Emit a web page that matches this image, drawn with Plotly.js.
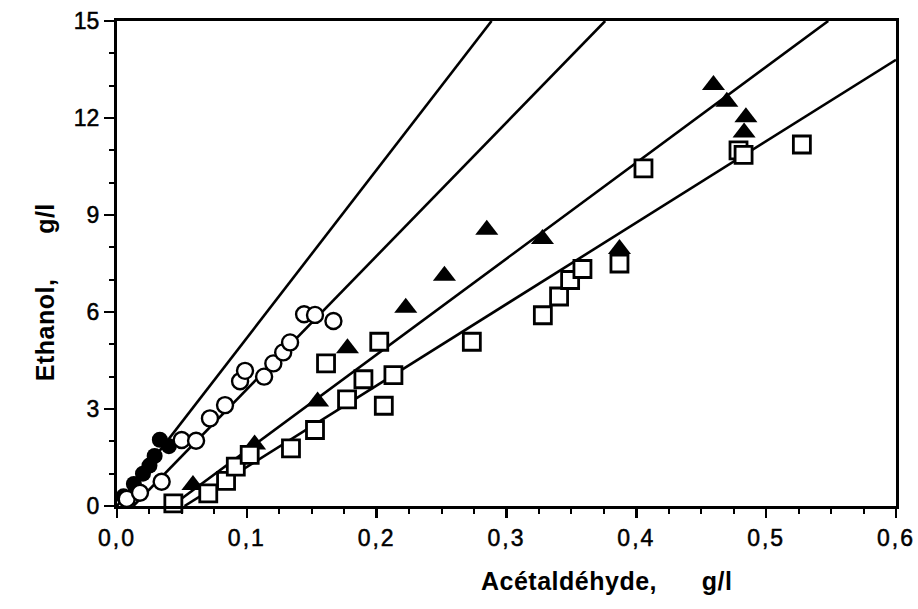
<!DOCTYPE html>
<html>
<head>
<meta charset="utf-8">
<script src="https://cdn.plot.ly/plotly-3.0.1.min.js"></script>
<style>
html,body{margin:0;padding:0;background:#fff;}
#chart{width:918px;height:609px;}
.xtick text{letter-spacing:2px;}
.xtick text,.ytick text{stroke:#000;stroke-width:0.5px;}
.annotation-text{letter-spacing:0.5px;}
</style>
</head>
<body>
<div id="chart"></div>
<script>
// Open circles
const openCircleX = [0.0075, 0.0177, 0.0344, 0.0498, 0.0609, 0.0716, 0.0832, 0.0948, 0.0986, 0.1133, 0.1204, 0.1280, 0.1333, 0.1441, 0.1525, 0.1667];
const openCircleY = [0.22, 0.41, 0.75, 2.04, 2.02, 2.71, 3.12, 3.86, 4.18, 4.00, 4.41, 4.75, 5.06, 5.93, 5.91, 5.72];
// Filled circles
const fillCircleX = [0.005, 0.013, 0.020, 0.025, 0.029, 0.033, 0.040];
const fillCircleY = [0.30, 0.68, 1.00, 1.25, 1.55, 2.05, 1.85];
// Filled triangles
const triX = [0.0585, 0.106, 0.1545, 0.1775, 0.2224, 0.2522, 0.2848, 0.3277, 0.387, 0.4594, 0.4697, 0.4844, 0.4830];
const triY = [0.65, 1.90, 3.23, 4.88, 6.13, 7.12, 8.54, 8.26, 7.95, 13.02, 12.50, 12.02, 11.55];
// Open squares
const sqX = [0.0434, 0.0703, 0.0840, 0.0915, 0.1022, 0.1340, 0.1525, 0.1610, 0.1772, 0.1898, 0.2020, 0.2055, 0.2129, 0.2733, 0.3280, 0.3405, 0.3490, 0.3585, 0.3870, 0.4055, 0.4787, 0.4826, 0.5275];
const sqY = [0.08, 0.39, 0.78, 1.22, 1.58, 1.78, 2.35, 4.41, 3.30, 3.92, 5.08, 3.10, 4.05, 5.08, 5.90, 6.48, 6.99, 7.33, 7.50, 10.44, 11.00, 10.86, 11.18];
// Fitted lines (end points)
const line1X = [0.0, 0.2885], line1Y = [0, 15];
const line2X = [0.0126, 0.376], line2Y = [0, 15];
const line3X = [0.042, 0.5478], line3Y = [0, 15];
const line4X = [0.052, 0.600], line4Y = [0, 13.8];
// Axis titles
const xTitle = 'Acétaldéhyde,      g/l';
const yTitle = 'Ethanol,      g/l';

const lineStyle = {color: '#000', width: 2.6};
const traces = [
  {x: line1X, y: line1Y, mode: 'lines', line: lineStyle, hoverinfo: 'skip'},
  {x: line2X, y: line2Y, mode: 'lines', line: lineStyle, hoverinfo: 'skip'},
  {x: line3X, y: line3Y, mode: 'lines', line: lineStyle, hoverinfo: 'skip'},
  {x: line4X, y: line4Y, mode: 'lines', line: lineStyle, hoverinfo: 'skip'},
  {x: triX, y: triY, mode: 'markers', cliponaxis: false,
   marker: {symbol: 'triangle-up', size: 20, color: '#000', line: {width: 0}}},
  {x: fillCircleX, y: fillCircleY, mode: 'markers', cliponaxis: false,
   marker: {symbol: 'circle', size: 16, color: '#000', line: {width: 0}}},
  {x: openCircleX, y: openCircleY, mode: 'markers', cliponaxis: false,
   marker: {symbol: 'circle', size: 16, color: '#fff', line: {color: '#000', width: 2.4}}},
  {x: sqX, y: sqY, mode: 'markers', cliponaxis: false,
   marker: {symbol: 'square', size: 17, color: '#fff', line: {color: '#000', width: 2.8}}}
];

const font = {family: '"Liberation Sans", Arial, sans-serif', color: '#000'};
const layout = {
  width: 918, height: 609,
  margin: {l: 117, r: 22, t: 21, b: 103},
  paper_bgcolor: '#fff', plot_bgcolor: '#fff',
  showlegend: false,
  separators: ',.',
  font: Object.assign({size: 23}, font),
  xaxis: {
    range: [0, 0.6], tick0: 0, dtick: 0.1, tickformat: '.1f',
    ticks: 'outside', ticklen: 9, tickwidth: 2.5, tickcolor: '#000',
    showline: true, linewidth: 3, linecolor: '#000', mirror: true,
    showgrid: false, zeroline: false,
    tickfont: Object.assign({size: 23}, font),
    minor: {dtick: 0.025, ticks: 'outside', ticklen: 5, tickwidth: 2, tickcolor: '#000', showgrid: false}
  },
  yaxis: {
    range: [0, 15], tick0: 0, dtick: 3,
    ticks: 'outside', ticklen: 10, tickwidth: 2.5, tickcolor: '#000',
    showline: true, linewidth: 3, linecolor: '#000', mirror: true,
    showgrid: false, zeroline: false,
    tickfont: Object.assign({size: 23}, font),
    minor: {dtick: 1, ticks: 'outside', ticklen: 5, tickwidth: 2, tickcolor: '#000', showgrid: false}
  },
  annotations: [
    {text: '<b>' + xTitle + '</b>', xref: 'paper', yref: 'paper', x: 0.628, y: -0.155,
     xanchor: 'center', yanchor: 'middle', showarrow: false, font: Object.assign({size: 25}, font)},
    {text: '<b>' + yTitle + '</b>', xref: 'paper', yref: 'paper', x: -0.093, y: 0.44,
     xanchor: 'center', yanchor: 'middle', textangle: -90, showarrow: false, font: Object.assign({size: 25}, font)}
  ]
};
Plotly.newPlot('chart', traces, layout, {staticPlot: true, displayModeBar: false});
</script>
</body>
</html>
